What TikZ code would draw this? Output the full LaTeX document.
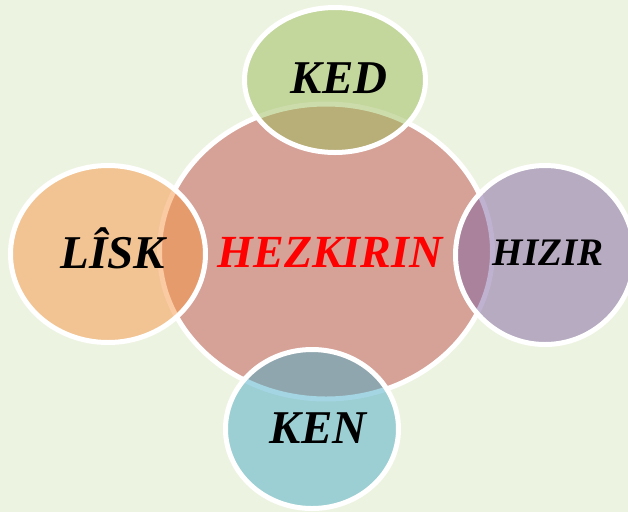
\documentclass[tikz,border=0pt]{standalone}
\usepackage{fontspec}
\setmainfont{Liberation Serif}
\definecolor{bgc}{HTML}{EDF3E1}
\definecolor{cred}{HTML}{C0504D}
\definecolor{cgreen}{HTML}{9BBB59}
\definecolor{corange}{HTML}{F79646}
\definecolor{cpurple}{HTML}{8064A2}
\definecolor{caqua}{HTML}{4BACC6}
\tikzset{
  blob/.style={draw=white, line width=5pt, fill opacity=0.5},
  lbl/.style={anchor=base, inner sep=0pt, font=\bfseries\itshape\fontsize{47}{52}\selectfont, text=black},
}
\begin{document}
\begin{tikzpicture}[x=1pt,y=-1pt]
\fill[bgc] (0,0) rectangle (628,512);
\useasboundingbox (0,0) rectangle (628,512);
% central
\path[blob, fill=cred] (326,251.5) ellipse [x radius=166.5, y radius=147.5];
\node[lbl, text=red, font=\bfseries\itshape\fontsize{46}{52}\selectfont] (hez) at (330,267) {HEZKIRIN};
% satellites
\path[blob, fill=cgreen] (335,80) ellipse [x radius=90.5, y radius=72.5];
\node[lbl] (ked) at (339,93) {KED};
\path[blob, fill=corange] (108,254) ellipse [x radius=97.5, y radius=88.5];
\node[lbl] (lisk) at (113,268) {LÎSK};
\path[blob, fill=cpurple] (545,255) ellipse [x radius=89.5, y radius=89.5];
\node[lbl, font=\bfseries\itshape\fontsize{39}{44}\selectfont] (hizir) at (548,265) {HIZIR};
\path[blob, fill=caqua] (312,429) ellipse [x radius=86.5, y radius=79.5];
\node[lbl] (ken) at (318,443) {KEN};
\end{tikzpicture}
\end{document}
